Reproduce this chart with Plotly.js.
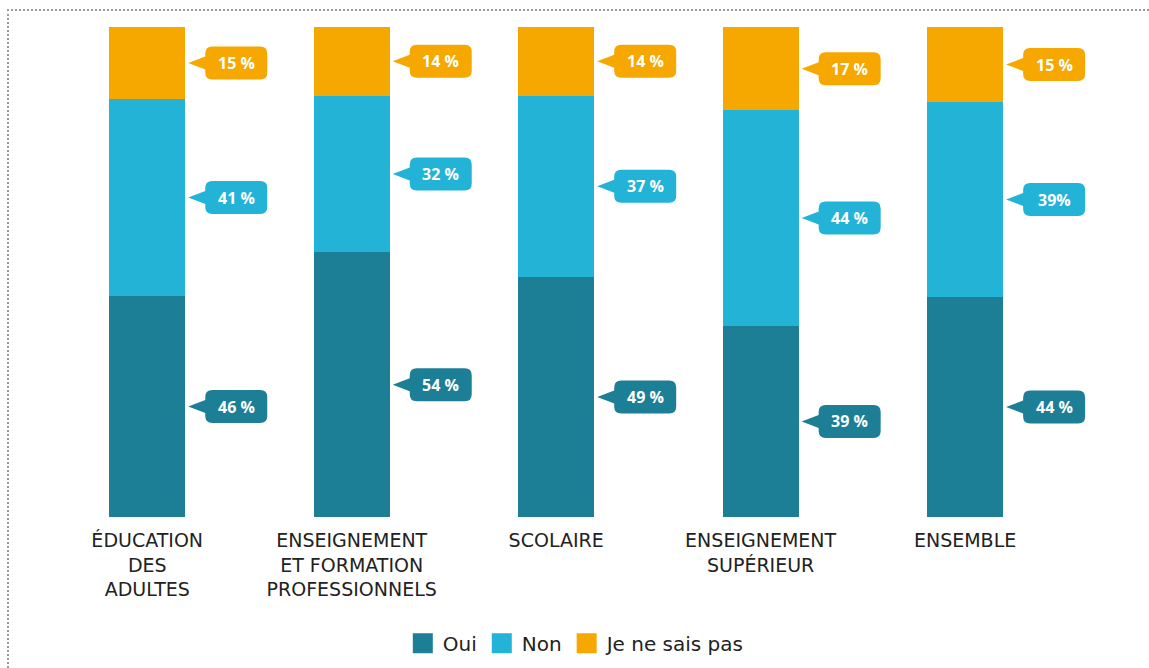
<!DOCTYPE html>
<html>
<head>
<meta charset="utf-8">
<script src="https://cdn.plot.ly/plotly-3.0.1.min.js"></script>
<style>
  html, body { margin: 0; padding: 0; background: #fff; }
  #wrap { position: relative; width: 1149px; height: 668px; }
  #chart { position: absolute; left: 0; top: 0; width: 1149px; height: 668px; }
  #frame { position: absolute; left: 7px; top: 9px; right: 0; bottom: 0;
           border-left: 2px dotted #9a9a9a; border-top: 2px dotted #9a9a9a; pointer-events: none; }
</style>
</head>
<body>
<div id="wrap"><div id="chart"></div><div id="frame"></div></div>
<script>
// ---- data ----
const categories = ["ÉDUCATION<br>DES<br>ADULTES", "ENSEIGNEMENT<br>ET FORMATION<br>PROFESSIONNELS", "SCOLAIRE", "ENSEIGNEMENT<br>SUPÉRIEUR", "ENSEMBLE"];
const seriesNames = ["Oui", "Non", "Je ne sais pas"];
const oui = [46, 54, 49, 39, 44];
const non = [41, 32, 37, 44, 39];
const nsp = [15, 14, 14, 17, 15];
const ouiLabels = ["46 %", "54 %", "49 %", "39 %", "44 %"];
const nonLabels = ["41 %", "32 %", "37 %", "44 %", "39%"];
const nspLabels = ["15 %", "14 %", "14 %", "17 %", "15 %"];

// ---- style ----
const colors = ["#1c7f96", "#23b3d7", "#f6a800"];
const bargap = 0.628;
const series = [oui, non, nsp];
const labels = [ouiLabels, nonLabels, nspLabels];
const xIdx = categories.map((c, i) => i);

const traces = series.map((vals, s) => ({
  type: "bar", x: xIdx, y: vals, name: seriesNames[s],
  marker: { color: colors[s] }, showlegend: false, hoverinfo: "skip"
}));
// legend-only entries (larger symbols)
seriesNames.forEach((n, s) => traces.push({
  type: "scatter", mode: "markers", x: [null], y: [null], name: n,
  marker: { symbol: "square", size: 16, color: colors[s], line: { color: colors[s], width: 4 } },
  showlegend: true, hoverinfo: "skip"
}));

// callouts at segment midpoints (normalized to percent as bars are)
const shapes = [], annotations = [];
const half = (1 - bargap) / 2;
const calloutPath = "M3,0 L20,-6.5 V-9.5 Q20,-16.5 27,-16.5 H75 Q82,-16.5 82,-9.5 V9.5 Q82,16.5 75,16.5 H27 Q20,16.5 20,9.5 V6.5 Z";
xIdx.forEach(i => {
  const total = oui[i] + non[i] + nsp[i];
  let cum = 0;
  series.forEach((vals, s) => {
    const v = vals[i] / total * 100;
    const mid = cum + v / 2;
    cum += v;
    shapes.push({
      type: "path", xref: "x", yref: "y", xsizemode: "pixel", ysizemode: "pixel",
      xanchor: i + half, yanchor: mid, path: calloutPath,
      fillcolor: colors[s], line: { width: 0 }, layer: "above"
    });
    annotations.push({
      x: i + half, y: mid, xref: "x", yref: "y", xshift: 51, yshift: 0,
      text: labels[s][i], showarrow: false, xanchor: "center", yanchor: "middle",
      font: { family: "Open Sans", size: 16, color: "#ffffff", weight: 700 }
    });
  });
});

const layout = {
  width: 1149, height: 668,
  margin: { l: 45, r: 51, t: 27, b: 151 },
  barmode: "stack", barnorm: "percent", bargap: bargap,
  paper_bgcolor: "rgba(0,0,0,0)", plot_bgcolor: "rgba(0,0,0,0)",
  xaxis: {
    type: "linear", range: [-0.5, 4.65], tickmode: "array", tickvals: xIdx, ticktext: categories,
    showgrid: false, zeroline: false, showline: false, ticks: "", ticklabelstandoff: 10,
    tickfont: { family: "DejaVu Sans", size: 19, color: "#222222" }
  },
  yaxis: { range: [0, 100], showgrid: false, zeroline: false, showticklabels: false, showline: false, ticks: "" },
  showlegend: true,
  legend: {
    orientation: "h", xref: "container", yref: "container", x: 0.502, xanchor: "center", y: 0.037, yanchor: "middle",
    font: { family: "DejaVu Sans", size: 20, color: "#222222" }, itemsizing: "trace", traceorder: "normal"
  },
  shapes: shapes, annotations: annotations,
  hovermode: false
};

Plotly.newPlot("chart", traces, layout, { displayModeBar: false, staticPlot: true });
</script>
</body>
</html>
